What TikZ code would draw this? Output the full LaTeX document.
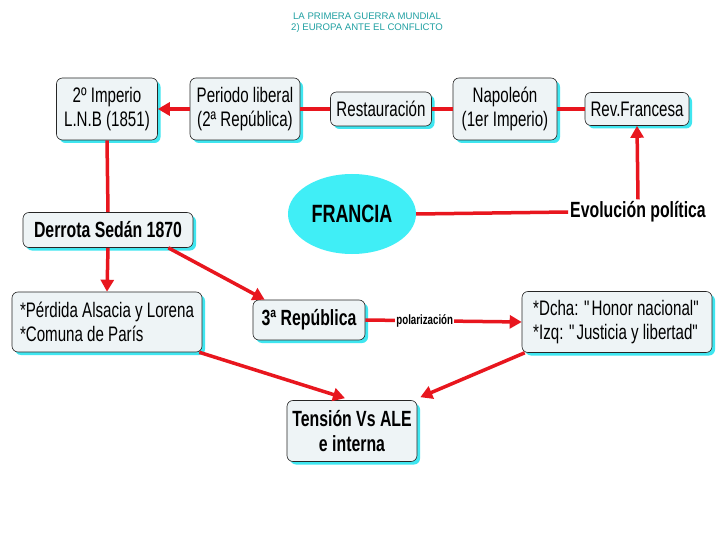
\documentclass[tikz,border=0pt]{standalone}
\usepackage{fontspec}
\setsansfont{Liberation Sans}[FakeStretch=0.72]
\newfontfamily\titlefont{Liberation Sans}
\usepackage{tikz}
\usetikzlibrary{arrows.meta, positioning, shapes.geometric, shadows}
\definecolor{Title}{HTML}{1FA0A2}
\definecolor{Conn}{HTML}{E8161E}
\definecolor{BoxFill}{HTML}{EEF4F6}
\definecolor{Shade}{HTML}{3FE6F0}
\definecolor{Globe}{HTML}{40EEF6}

\begin{document}
\begin{tikzpicture}[
  x=1pt, y=-1pt,
  font=\sffamily,
  box/.style={rounded corners=6pt, draw=black!85, line width=0.6pt, fill=BoxFill, align=center, inner sep=2pt,
    drop shadow={shadow xshift=3pt, shadow yshift=-3pt, fill=Shade, opacity=1},
    font=\sffamily\fontsize{21}{24}\selectfont},
  bbox/.style={box, font=\sffamily\bfseries\fontsize{22}{25}\selectfont},
  link/.style={draw=Conn, line width=3.5pt},
  arrow/.style={link, -{Triangle[length=12pt, width=13pt]}},
  heading/.style={text=Title, font=\titlefont\fontsize{9.6}{11}\selectfont, align=center}
]
\useasboundingbox[fill=white] (0,0) rectangle (720,540);

\node[heading] (title) at (367,23) {LA PRIMERA GUERRA MUNDIAL\\2) EUROPA ANTE EL CONFLICTO};

% top row
\node[box, minimum width=101pt, minimum height=62pt] (imperio2) at (107,109) {2º Imperio\\L.N.B (1851)};
\node[box, minimum width=110pt, minimum height=62pt] (liberal) at (245,109) {Periodo liberal\\(2ª República)};
\node[box, minimum width=101pt, minimum height=34pt] (restaur) at (381,109) {Restauración};
\node[box, minimum width=104pt, minimum height=62pt] (napoleon) at (505,109) {Napoleón\\(1er Imperio)};
\node[box, minimum width=104pt, minimum height=33pt] (revfr) at (637,109) {Rev.Francesa};

% centre
\node[ellipse, fill=Globe, minimum width=128pt, minimum height=80pt, font=\sffamily\bfseries\fontsize{25}{28}\selectfont] (francia) at (352,214) {FRANCIA};
\node[font=\sffamily\bfseries\fontsize{22}{24}\selectfont, inner sep=2pt] (evol) at (638,212) {Evolución política};

% lower part
\node[bbox, minimum width=170pt, minimum height=35pt] (sedan) at (108,230) {Derrota Sedán 1870};
\node[box, align=left, minimum width=190pt, minimum height=60pt] (perdida) at (107,322) {*Pérdida Alsacia y Lorena\\*Comuna de París};
\node[bbox, minimum width=112pt, minimum height=40pt] (rep3) at (309,320) {3ª República};
\node[box, align=left, minimum width=190pt, minimum height=61pt] (dcha) at (617,322) {*Dcha: \textquotedbl Honor nacional\textquotedbl\\*Izq: \textquotedbl Justicia y libertad\textquotedbl};
\node[bbox, minimum width=130pt, minimum height=61pt] (tension) at (352,431) {Tensión Vs ALE\\e interna};

% connectors
\draw[arrow] (liberal) -- (imperio2);
\draw[link] (restaur) -- (liberal);
\draw[link] (napoleon) -- (restaur);
\draw[link] (revfr) -- (napoleon);
\draw[link] (francia.east) -- (evol.west);
\draw[arrow] (evol.north) -- (revfr.south);
\draw[link] (imperio2.south) -- (sedan.north);
\draw[arrow] (sedan.south) -- (perdida.north);
\draw[arrow] ([xshift=-25pt]sedan.south east) -- ([xshift=12pt]rep3.north west);
\draw[arrow] (rep3.east) -- node[pos=0.38, fill=white, inner sep=1pt, font=\sffamily\bfseries\fontsize{13.5}{14}\selectfont] (polar) {polarización} (dcha.west);
\draw[arrow] ([xshift=-3pt]perdida.south east) -- ([xshift=-7pt, yshift=2pt]tension.north);
\draw[arrow] ([xshift=3pt]dcha.south west) -- ([xshift=3pt, yshift=3pt]tension.north east);
\end{tikzpicture}
\end{document}
